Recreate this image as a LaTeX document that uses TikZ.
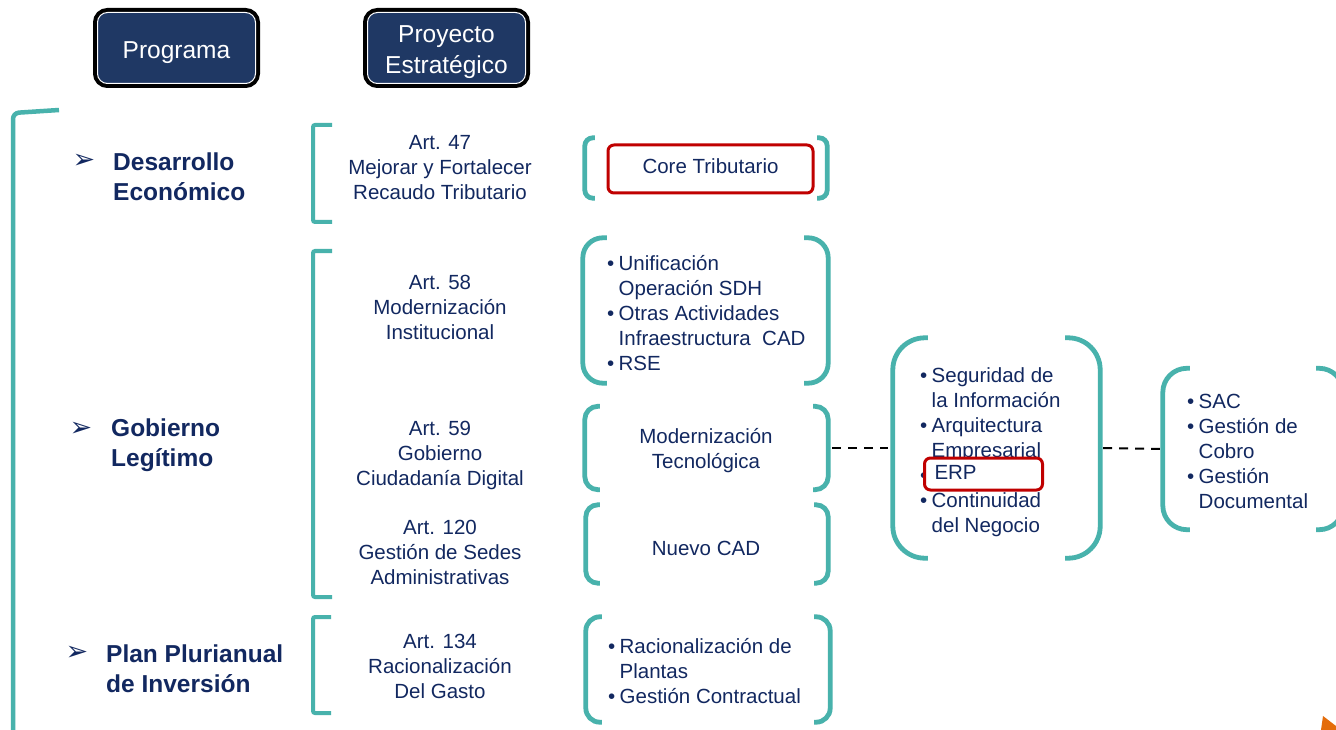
\documentclass[tikz,border=0pt]{standalone}
\usepackage{fontspec}
\setmainfont{Liberation Sans}
\newfontfamily\dingfont{DejaVu Sans}

\definecolor{navy}{RGB}{18,40,96}
\definecolor{hdrblue}{RGB}{31,56,100}
\definecolor{tealline}{RGB}{72,178,172}
\definecolor{redline}{RGB}{192,0,0}
\definecolor{slideorange}{RGB}{228,108,10}

\newcommand{\bpt}{\makebox[11.5pt][l]{\textbullet}}
\newcommand{\bind}{\hspace*{11.5pt}}
% two round brackets round a frame node: node, corner radius, stub length
\newcommand{\parens}[3]{%
  \draw[paren, rounded corners=#2] ([xshift=#3pt]#1.north west) -- (#1.north west) -- (#1.south west) -- ([xshift=#3pt]#1.south west);
  \draw[paren, rounded corners=#2] ([xshift=-#3pt]#1.north east) -- (#1.north east) -- (#1.south east) -- ([xshift=-#3pt]#1.south east);
}

\begin{document}
\begin{tikzpicture}[x=1pt, y=-1pt,
    hdr/.style={fill=hdrblue, draw=white, line width=1pt, rounded corners=10pt,
      minimum width=158pt, minimum height=71pt, text=white, align=center,
      font=\fontsize{24.5}{31}\selectfont, preaction={draw=black, line width=9pt},
      execute at begin node=\rule{0pt}{26pt}},
    prg/.style={anchor=west, text=navy, align=left, inner sep=0pt,
      font=\bfseries\fontsize{24.5}{30}\selectfont},
    arrowbul/.style={text=navy, inner sep=0pt, font=\dingfont\fontsize{27}{27}\selectfont},
    art/.style={text=navy, align=center, inner sep=0pt, font=\fontsize{20.5}{25}\selectfont,
      execute at begin node=\strut, execute at end node=\strut, yshift=-4pt},
    lst/.style={art, anchor=west, align=left},
    frame/.style={inner sep=0pt},
    paren/.style={tealline, line width=4.8pt},
    bracket/.style={tealline, line width=4pt, rounded corners=2pt},
    redbox/.style={draw=redline, line width=3pt, rounded corners=6pt, fill=white},
    dashline/.style={line width=2pt, dash pattern=on 9pt off 7pt}]

    % Canvas
    \useasboundingbox (0,0) rectangle (1336,730);
    \clip (0,0) rectangle (1336,730);
    \fill[white] (0,0) rectangle (1336,730);

    % Headers
    \node[hdr] (hdrprog) at (176.5,48) {Programa};
    \node[hdr, execute at begin node=\rule{0pt}{57pt}] (hdrproy) at (446.5,48) {Proyecto\\Estratégico};

    % Outer bracket
    \draw[bracket, line width=4.5pt, rounded corners=6pt] (59,110) -- (13,113) -- (13,745);

    % Programs
    \node[arrowbul] (arr1) at (84,161) {➢};
    \node[arrowbul] (arr2) at (81,429) {➢};
    \node[arrowbul] (arr3) at (77,653) {➢};
    \node[prg] (prg1) at (113,177) {Desarrollo\\Económico};
    \node[prg] (prg2) at (111,445) {Gobierno\\Legítimo};
    \node[prg] (prg3) at (106,669) {Plan Plurianual\\de Inversión};

    % Article brackets
    \draw[bracket] (332,125) -- (313,125) -- (313,222) -- (332,222);
    \draw[bracket] (332,251) -- (313,251) -- (313,597) -- (332,597);
    \draw[bracket] (331,617) -- (313,617) -- (313,713) -- (331,713);

    % Articles
    \node[art] (art47) at (440,167) {Art. 47\\Mejorar y Fortalecer\\Recaudo Tributario};
    \node[art] (art58) at (440,307) {Art. 58\\Modernización\\Institucional};
    \node[art] (art59) at (440,453) {Art. 59\\Gobierno\\Ciudadanía Digital};
    \node[art] (art120) at (440,552) {Art. 120\\Gestión de Sedes\\Administrativas};
    \node[art] (art134) at (440,666) {Art. 134\\Racionalización\\Del Gasto};

    % Project groups
    \node[frame, minimum width=242pt, minimum height=60pt] (gcore) at (706,168) {};
    \node[frame, minimum width=245pt, minimum height=145pt] (guni) at (705.5,310.5) {};
    \node[frame, minimum width=243pt, minimum height=83pt] (gmod) at (706.5,448) {};
    \node[frame, minimum width=242pt, minimum height=78pt] (gcad) at (707,544) {};
    \node[frame, minimum width=244pt, minimum height=105pt] (grac) at (708,669.5) {};
    \node[frame, minimum width=207pt, minimum height=220pt] (gseg) at (996.5,448) {};
    \node[frame, minimum width=180pt, minimum height=161pt] (gsac) at (1253,449) {};
    \parens{gcore}{8pt}{10}
    \parens{guni}{20pt}{24}
    \parens{gmod}{13pt}{15}
    \parens{gcad}{12pt}{14}
    \parens{grac}{14pt}{16}
    \parens{gseg}{32pt}{35}
    \parens{gsac}{24pt}{27}

    % Group contents
    \node[art, redbox, minimum width=205pt, minimum height=48pt] (core) at (710.5,165) {Core Tributario};
    \node[lst] (uni) at (607,313) {\bpt Unificación\\\bind Operación SDH\\\bpt Otras Actividades\\\bind Infraestructura~~CAD\\\bpt RSE};
    \node[art] (modtec) at (706,448) {Modernización\\Tecnológica};
    \node[art] (nuevocad) at (706,546) {Nuevo CAD};
    \node[lst] (rac) at (608,671) {\bpt Racionalización de\\\bind Plantas\\\bpt Gestión Contractual};
    \node[lst] (seg) at (920,450) {\bpt Seguridad de\\\bind la Información\\\bpt Arquitectura\\\bind Empresarial\\\bpt\\\bpt Continuidad\\\bind del Negocio};
    \node[art, redbox, anchor=west, align=left, minimum height=32pt, text width=98pt, inner xsep=10pt] (erp) at (923,470) {ERP};
    \node[lst] (sac) at (1187,451) {\bpt SAC\\\bpt Gestión de\\\bind Cobro\\\bpt Gestión\\\bind Documental};

    % Links
    \draw[dashline, shorten <=4pt, shorten >=5pt] (gmod.east) -- (gseg.west);
    \draw[dashline, shorten <=3pt, shorten >=3pt] (gseg.east) -- (gsac.west);

    % Corner mark
    \fill[slideorange] (1323,716) -- (1336,726) -- (1336,730) -- (1321,730) -- cycle;
\end{tikzpicture}
\end{document}
